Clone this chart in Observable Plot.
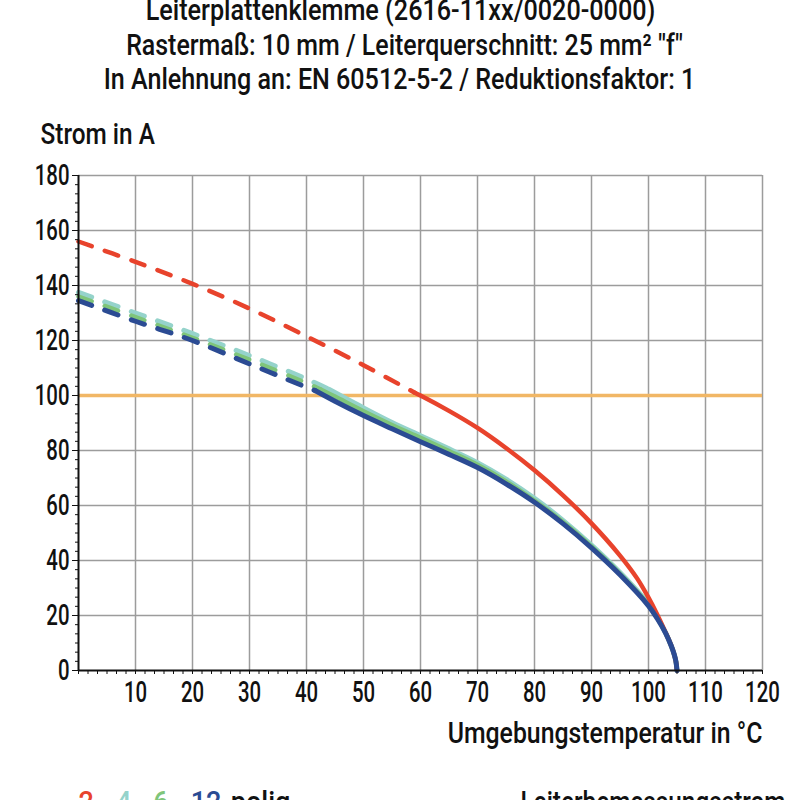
<!DOCTYPE html>
<html><head><meta charset="utf-8">
<script src="https://cdn.jsdelivr.net/npm/d3@7"></script>
<script src="https://cdn.jsdelivr.net/npm/@observablehq/plot@0.6"></script>
<style>html,body{margin:0;padding:0;background:#fff;overflow:hidden}#chart svg{display:block}</style>
</head><body><div id="chart"></div>
<script>
// ---- texts ----
const titleLines = [
  "Leiterplattenklemme (2616-11xx/0020-0000)",
  "Rastermaß: 10 mm / Leiterquerschnitt: 25 mm² \"f\"",
  "In Anlehnung an: EN 60512-5-2 / Reduktionsfaktor: 1"
];
const yLabel = "Strom in A";
const xLabel = "Umgebungstemperatur in °C";
const legendSeries = "2-, 4-, 6-, 12-polig";
const legendRated = "Leiterbemessungsstrom";

// ---- ticks ----
const xTicks = [10,20,30,40,50,60,70,80,90,100,110,120];
const yTicks = [0,20,40,60,80,100,120,140,160,180];
const ratedCurrent = [100];

// ---- series (Umgebungstemperatur in °C / Strom in A) ----
const red_dashT  = [0,10,20,30,40,50,59];
const red_dashI  = [156,148.6,140.6,131.6,121.5,111,101];
const red_solidT = [59,60,65,70,75,80,85,90,95,98,100,101.5,103,104,104.5,104.8,105];
const red_solidI = [101,100,94.4,88.2,80.9,72.8,63.7,53.5,41.8,33.5,26.5,20.5,13.8,9,5.9,3.4,0];

const teal_dashT  = [0,10,20,30,40,44];
const teal_dashI  = [137.5,130,122.5,114.5,106,102.2];
const teal_solidT = [44,50,55,60,65,70,75,80,85,90,95,100,101.5,103,104,104.5,104.8,105];
const teal_solidI = [102.2,95.5,90.2,85.4,80.6,75.6,69.6,62.6,54.6,45.6,35.6,24.2,19.5,13.7,8.9,5.9,3.4,0];

const green_dashT  = [0,10,20,30,40,42.5];
const green_dashI  = [136,128.5,121,113,104.5,102.2];
const green_solidT = [42.5,45,50,55,60,65,70,75,80,85,90,95,100,101.5,103,104,104.5,104.8,105];
const green_solidI = [102.2,99.6,94.3,89.3,84.6,79.8,74.8,68.8,61.8,54,45.1,35.2,23.9,19.3,13.7,8.9,5.9,3.4,0];

const blue_dashT  = [0,10,20,30,40,41.5];
const blue_dashI  = [134.5,127,120,111.5,103,101.8];
const blue_solidT = [41.5,45,50,55,60,65,70,75,80,85,90,95,100,101.5,103,104,104.5,104.8,105];
const blue_solidI = [101.8,97.9,92.7,87.9,83.2,78.6,73.8,67.9,61.2,53.4,44.6,34.8,23.5,19,13.6,8.9,5.9,3.4,0];

const colRed = "#e8432c", colTeal = "#95d3cb", colGreen = "#7fc57a", colBlue = "#2b4b93", colOrange = "#f1b766";

function rows(T, I) { return T.map((t, k) => ({t, i: I[k]})); }

const series = [
  {dash: rows(teal_dashT, teal_dashI),   solid: rows(teal_solidT, teal_solidI),   color: colTeal,  w: 5},
  {dash: rows(green_dashT, green_dashI), solid: rows(green_solidT, green_solidI), color: colGreen, w: 4.5},
  {dash: rows(red_dashT, red_dashI),     solid: rows(red_solidT, red_solidI),     color: colRed,   w: 4.5},
  {dash: rows(blue_dashT, blue_dashI),   solid: rows(blue_solidT, blue_solidI),   color: colBlue,  w: 5}
];

const minorX = d3.range(0, 121, 10/6);
const minorY = d3.range(0, 181, 20/6);

const font = "Roboto, 'Liberation Sans', sans-serif";
const ink = "#111";

const marks = [
  Plot.gridX(xTicks, {stroke: "#9c9c9c", strokeOpacity: 1, strokeWidth: 1.5}),
  Plot.gridY(yTicks.filter(d => d > 0), {stroke: "#9c9c9c", strokeOpacity: 1, strokeWidth: 1.5}),
  Plot.ruleY(ratedCurrent, {stroke: colOrange, strokeWidth: 3.5})
];
for (const s of series) {
  marks.push(Plot.line(s.dash, {x: "t", y: "i", stroke: s.color, strokeWidth: s.w, strokeDasharray: "14,14", strokeLinecap: "round", curve: "catmull-rom"}));
}
for (const s of series) {
  marks.push(Plot.line(s.solid, {x: "t", y: "i", stroke: s.color, strokeWidth: s.w, strokeLinecap: "round", curve: "catmull-rom"}));
}
marks.push(
  Plot.ruleX([0], {stroke: "#111", strokeWidth: 2}),
  Plot.ruleY([0], {stroke: "#111", strokeWidth: 2}),
  Plot.axisX(minorX, {tickSize: 4, tickFormat: () => "", label: null, stroke: "#111"}),
  Plot.axisX(xTicks, {tickSize: 4, tickPadding: 6, fontSize: 30, label: null, stroke: "#111", fill: ink}),
  Plot.axisY(minorY, {tickSize: 3, tickFormat: () => "", label: null, stroke: "#111"}),
  Plot.axisY(yTicks, {tickSize: 6, tickPadding: 3, fontSize: 30, label: null, stroke: "#111", fill: ink}),
  Plot.text([titleLines[0]], {text: d => d, frameAnchor: "top", dx: -20, dy: -156, lineAnchor: "bottom", fontSize: 29, fill: ink}),
  Plot.text([titleLines[1]], {text: d => d, frameAnchor: "top", dx: -16, dy: -121, lineAnchor: "bottom", fontSize: 29, fill: ink}),
  Plot.text([titleLines[2]], {text: d => d, frameAnchor: "top", dx: -21, dy: -87, lineAnchor: "bottom", fontSize: 29, fill: ink}),
  Plot.text([yLabel], {text: d => d, frameAnchor: "top-left", textAnchor: "start", dx: -38, dy: -32, lineAnchor: "bottom", fontSize: 29, fill: ink}),
  Plot.text([xLabel], {text: d => d, frameAnchor: "bottom-right", textAnchor: "end", dx: 0, dy: 72, lineAnchor: "bottom", fontSize: 29, fill: ink}),
  Plot.text([legendSeries], {text: d => d, frameAnchor: "bottom-left", textAnchor: "start", dx: 0, dy: 141, lineAnchor: "bottom", fontSize: 29, fill: ink}),
  Plot.text(["——"], {text: d => d, frameAnchor: "bottom-left", textAnchor: "start", dx: 365, dy: 141, lineAnchor: "bottom", fontSize: 29, fill: colOrange}),
  Plot.text([legendRated], {text: d => d, frameAnchor: "bottom-left", textAnchor: "start", dx: 442, dy: 141, lineAnchor: "bottom", fontSize: 29, fill: ink})
);

const chart = Plot.plot({
  width: 800, height: 800,
  marginLeft: 78, marginRight: 38, marginTop: 175, marginBottom: 130,
  x: {domain: [0, 120]},
  y: {domain: [0, 180]},
  style: {fontFamily: font, background: "#fff", color: ink, fontWeight: 500},
  marks
});
document.getElementById("chart").append(chart);

// colour the legend numbers
d3.select(chart).selectAll("text").filter(function() { return this.textContent === legendSeries; }).each(function() {
  const parts = [["2", colRed], ["-, ", ink], ["4", colTeal], ["-, ", ink], ["6", colGreen], ["-, ", ink], ["12", colBlue], ["-polig", ink]];
  const el = d3.select(this);
  el.text(null);
  for (const [t, c] of parts) el.append("tspan").attr("fill", c).text(t);
});

// condensed look: horizontal scaling to match the reference widths
const targets = {};
targets[titleLines[0]] = 510;
targets[titleLines[1]] = 557;
targets[titleLines[2]] = 592;
targets[yLabel] = 115;
targets[xLabel] = 315;
targets[legendSeries] = 212;
targets[legendRated] = 265;
targets["——"] = 40;
d3.select(chart).selectAll("text").each(function() {
  const s = this.textContent;
  let sx = null;
  if (/^\d+$/.test(s)) sx = 0.68;
  else if (targets[s]) { const w = this.getBBox().width; if (w > 0) sx = targets[s] / w; }
  if (sx) {
    const x = +this.getAttribute("x") || 0, y = +this.getAttribute("y") || 0;
    const tr = this.getAttribute("transform") || "";
    this.setAttribute("transform", `${tr} translate(${x},${y}) scale(${sx},1) translate(${-x},${-y})`);
  }
});
</script>
</body></html>
